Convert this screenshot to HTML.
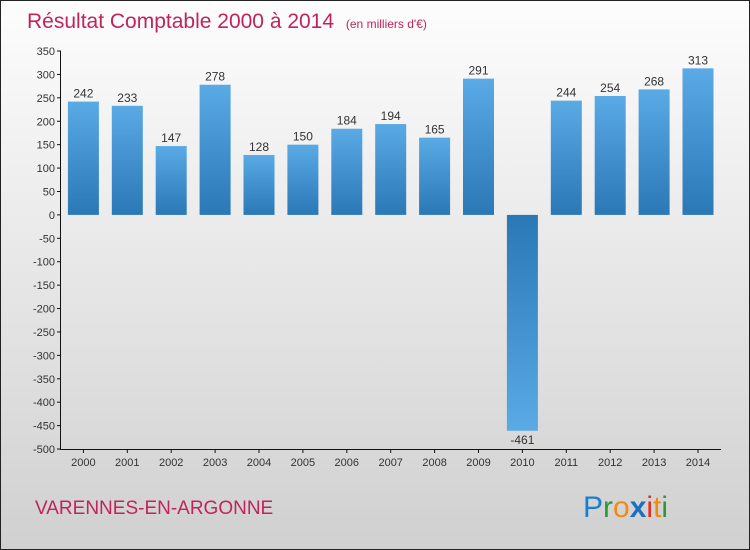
<!DOCTYPE html>
<html><head><meta charset="utf-8"><style>
body{margin:0}
svg{display:block;font-family:"Liberation Sans",sans-serif}
</style></head><body>
<svg width="750" height="550" viewBox="0 0 750 550">
<defs>
<linearGradient id="bg" x1="0" y1="0" x2="0" y2="1"><stop offset="0" stop-color="#fdfdfd"/><stop offset="1" stop-color="#d0d0d0"/></linearGradient>
<linearGradient id="gp" x1="0" y1="0" x2="0" y2="1"><stop offset="0" stop-color="#5aaae6"/><stop offset="1" stop-color="#2a78b6"/></linearGradient>
<linearGradient id="gn" x1="0" y1="0" x2="0" y2="1"><stop offset="0" stop-color="#2a78b6"/><stop offset="1" stop-color="#5aaae6"/></linearGradient>
</defs>
<rect x="0.5" y="0.5" width="749" height="549" fill="url(#bg)" stroke="#222"/>
<text x="27" y="28" font-size="21" fill="#c0245c">Résultat Comptable 2000 à 2014 <tspan font-size="12" dx="6">(en milliers d'€)</tspan></text>
<g id="yaxis"></g>
<g id="xaxis"></g>
<g id="bars"></g>
<text x="35" y="514" font-size="19" fill="#c0245c">VARENNES-EN-ARGONNE</text>
<g font-size="30" font-family="'Liberation Sans',sans-serif">
<text x="583" y="517"><tspan fill="#1a7fd0">P</tspan><tspan fill="#2a9a3a">r</tspan><tspan fill="#f08a10">o</tspan><tspan fill="#1a6fc0" font-weight="bold">x</tspan><tspan fill="#e03020">i</tspan><tspan fill="#f08a10">t</tspan><tspan fill="#2a9a3a">i</tspan></text>
</g>
</svg>
<script>
const years=["2000","2001","2002","2003","2004","2005","2006","2007","2008","2009","2010","2011","2012","2013","2014"];
const values=[242,233,147,278,128,150,184,194,165,291,-461,244,254,268,313];
const yTicks=[350,300,250,200,150,100,50,0,-50,-100,-150,-200,-250,-300,-350,-400,-450,-500];
const NS="http://www.w3.org/2000/svg";
function y(v){return 214.9-v*(398/850);}
function x(i){return 83.4+i*43.9;}
function mk(t,a,p){const e=document.createElementNS(NS,t);for(const k in a)e.setAttribute(k,a[k]);p.appendChild(e);return e;}
const ya=document.getElementById('yaxis'),xa=document.getElementById('xaxis'),bars=document.getElementById('bars');
mk('line',{x1:60.5,x2:60.5,y1:y(350),y2:y(-500),stroke:'#111'},ya);
yTicks.forEach(v=>{
 mk('line',{x1:57,x2:61,y1:y(v),y2:y(v),stroke:'#111'},ya);
 const t=mk('text',{x:55,y:y(v)+4,'font-size':11,'text-anchor':'end',fill:'#333'},ya);t.textContent=v;
 
 
});
mk('line',{x1:60,x2:721,y1:y(-500)+0.5,y2:y(-500)+0.5,stroke:'#111'},xa);
years.forEach((yr,i)=>{
 mk('line',{x1:x(i),x2:x(i),y1:y(-500),y2:y(-500)+4,stroke:'#111'},xa);
 const t=mk('text',{x:x(i),y:466,'font-size':11,'text-anchor':'middle',fill:'#333'},xa);t.textContent=yr;
 
 
 const v=values[i],top=Math.min(y(v),y(0)),h=Math.abs(y(v)-y(0));
 const r=mk('rect',{x:x(i)-15.5,y:top,width:31,height:h,fill:v>=0?'url(#gp)':'url(#gn)'},bars);
 
 
 const l=mk('text',{x:x(i),y:v>=0?y(v)-4:y(v)+13,'font-size':12,'text-anchor':'middle',fill:'#333'},bars);l.textContent=v;
 
 
});
</script>
</body></html>
